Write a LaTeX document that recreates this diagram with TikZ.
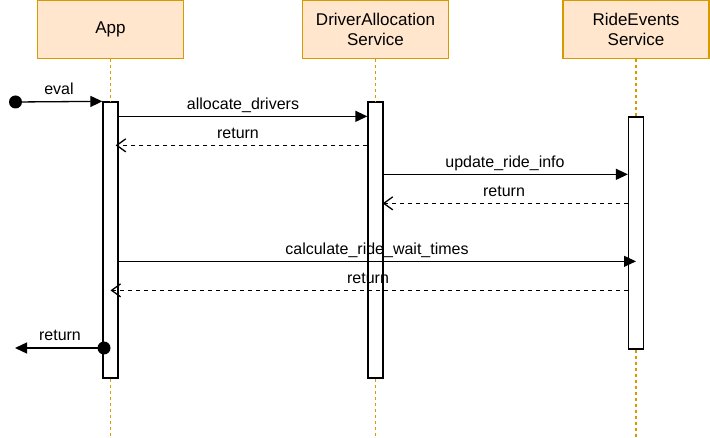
\documentclass[tikz,border=0pt]{standalone}
\usepackage{fontspec}
\setmainfont{Liberation Sans}
\usetikzlibrary{arrows.meta}
\definecolor{boxfill}{HTML}{FFE6CC}
\definecolor{boxdraw}{HTML}{D79B00}
\begin{document}
\begin{tikzpicture}[x=1pt,y=-1pt,
  head/.style={draw=boxdraw,fill=boxfill,line width=1.4pt,minimum width=146pt,minimum height=58pt,align=center,inner sep=0pt,font=\fontsize{17}{20}\selectfont},
  bar/.style={draw=black,fill=white,line width=1.3pt,minimum width=15pt,inner sep=0pt},
  life/.style={draw=boxdraw,line width=1.3pt,dash pattern=on 3pt off 3pt},
  sync/.style={line width=1.3pt,-{Triangle[length=12pt,width=11pt]}},
  ret/.style={line width=1.3pt,dash pattern=on 4pt off 4pt,-{Straight Barb[length=9pt,width=13pt,line width=1.3pt]}},
  lbl/.style={anchor=base,inner sep=0pt,font=\fontsize{16}{18}\selectfont},
  dot/.style={circle,fill=black,minimum size=13pt,inner sep=0pt}]
\useasboundingbox (0,0) rectangle (710,438);
% headers
\node[head] (app) at (110.5,29.5) {App};
\node[head] (drv) at (375.5,29.5) {DriverAllocation\\Service};
\node[head] (ride) at (636,29.5) {RideEvents\\Service};
% lifelines
\coordinate (append) at (110.5,438);
\coordinate (drvend) at (375.5,438);
\coordinate (rideend) at (636,438);
\node[bar,minimum height=276pt] (appbar) at (110.5,240) {};
\node[bar,minimum height=276pt] (drvbar) at (375.5,240) {};
\node[bar,minimum height=232pt] (ridebar) at (636,233) {};
\draw[life] (app.south) -- (appbar.north);
\draw[life] (appbar.south) -- (append);
\draw[life] (drv.south) -- (drvbar.north);
\draw[life] (drvbar.south) -- (drvend);
\draw[life] (ride.south) -- (ridebar.north);
\draw[life] (ridebar.south) -- (rideend);
% eval
\node[dot] (start) at (15.5,102) {};
\draw[sync] (start.center) -- (appbar.north west);
\node[lbl] at (59,95) {eval};
% allocate_drivers
\draw[sync] ([yshift=-15pt]appbar.north east) -- ([yshift=-15pt]drvbar.north west);
\node[lbl] at (243,110) {allocate\_drivers};
% return
\draw[ret] ([yshift=-44pt]drvbar.north west) -- ([xshift=-3pt,yshift=-44pt]appbar.north east);
\node[lbl] at (238,139) {return};
% update_ride_info
\draw[sync] ([yshift=-58pt]drvbar.north east |- ridebar.north) -- ([yshift=-58pt]ridebar.north west);
\node[lbl] at (505,168) {update\_ride\_info};
% return
\draw[ret] ([yshift=-87pt]ridebar.north west) -- ([xshift=-1pt,yshift=-87pt]drvbar.east |- ridebar.north);
\node[lbl] at (504,197) {return};
% calculate_ride_wait_times
\draw[sync] ([yshift=-145pt]appbar.east |- ridebar.north) -- ([yshift=-145pt]ridebar.north);
\node[lbl] at (377,255) {calculate\_ride\_wait\_times};
% return
\draw[ret] ([yshift=-174pt]ridebar.north west) -- ([yshift=-174pt]appbar.center |- ridebar.north);
\node[lbl] at (368,284) {return};
% final return
\node[dot] (enddot) at (104,348) {};
\coordinate (out) at (15,348);
\draw[sync] (enddot.center) -- (out);
\node[lbl] at (60,341) {return};
\end{tikzpicture}
\end{document}
